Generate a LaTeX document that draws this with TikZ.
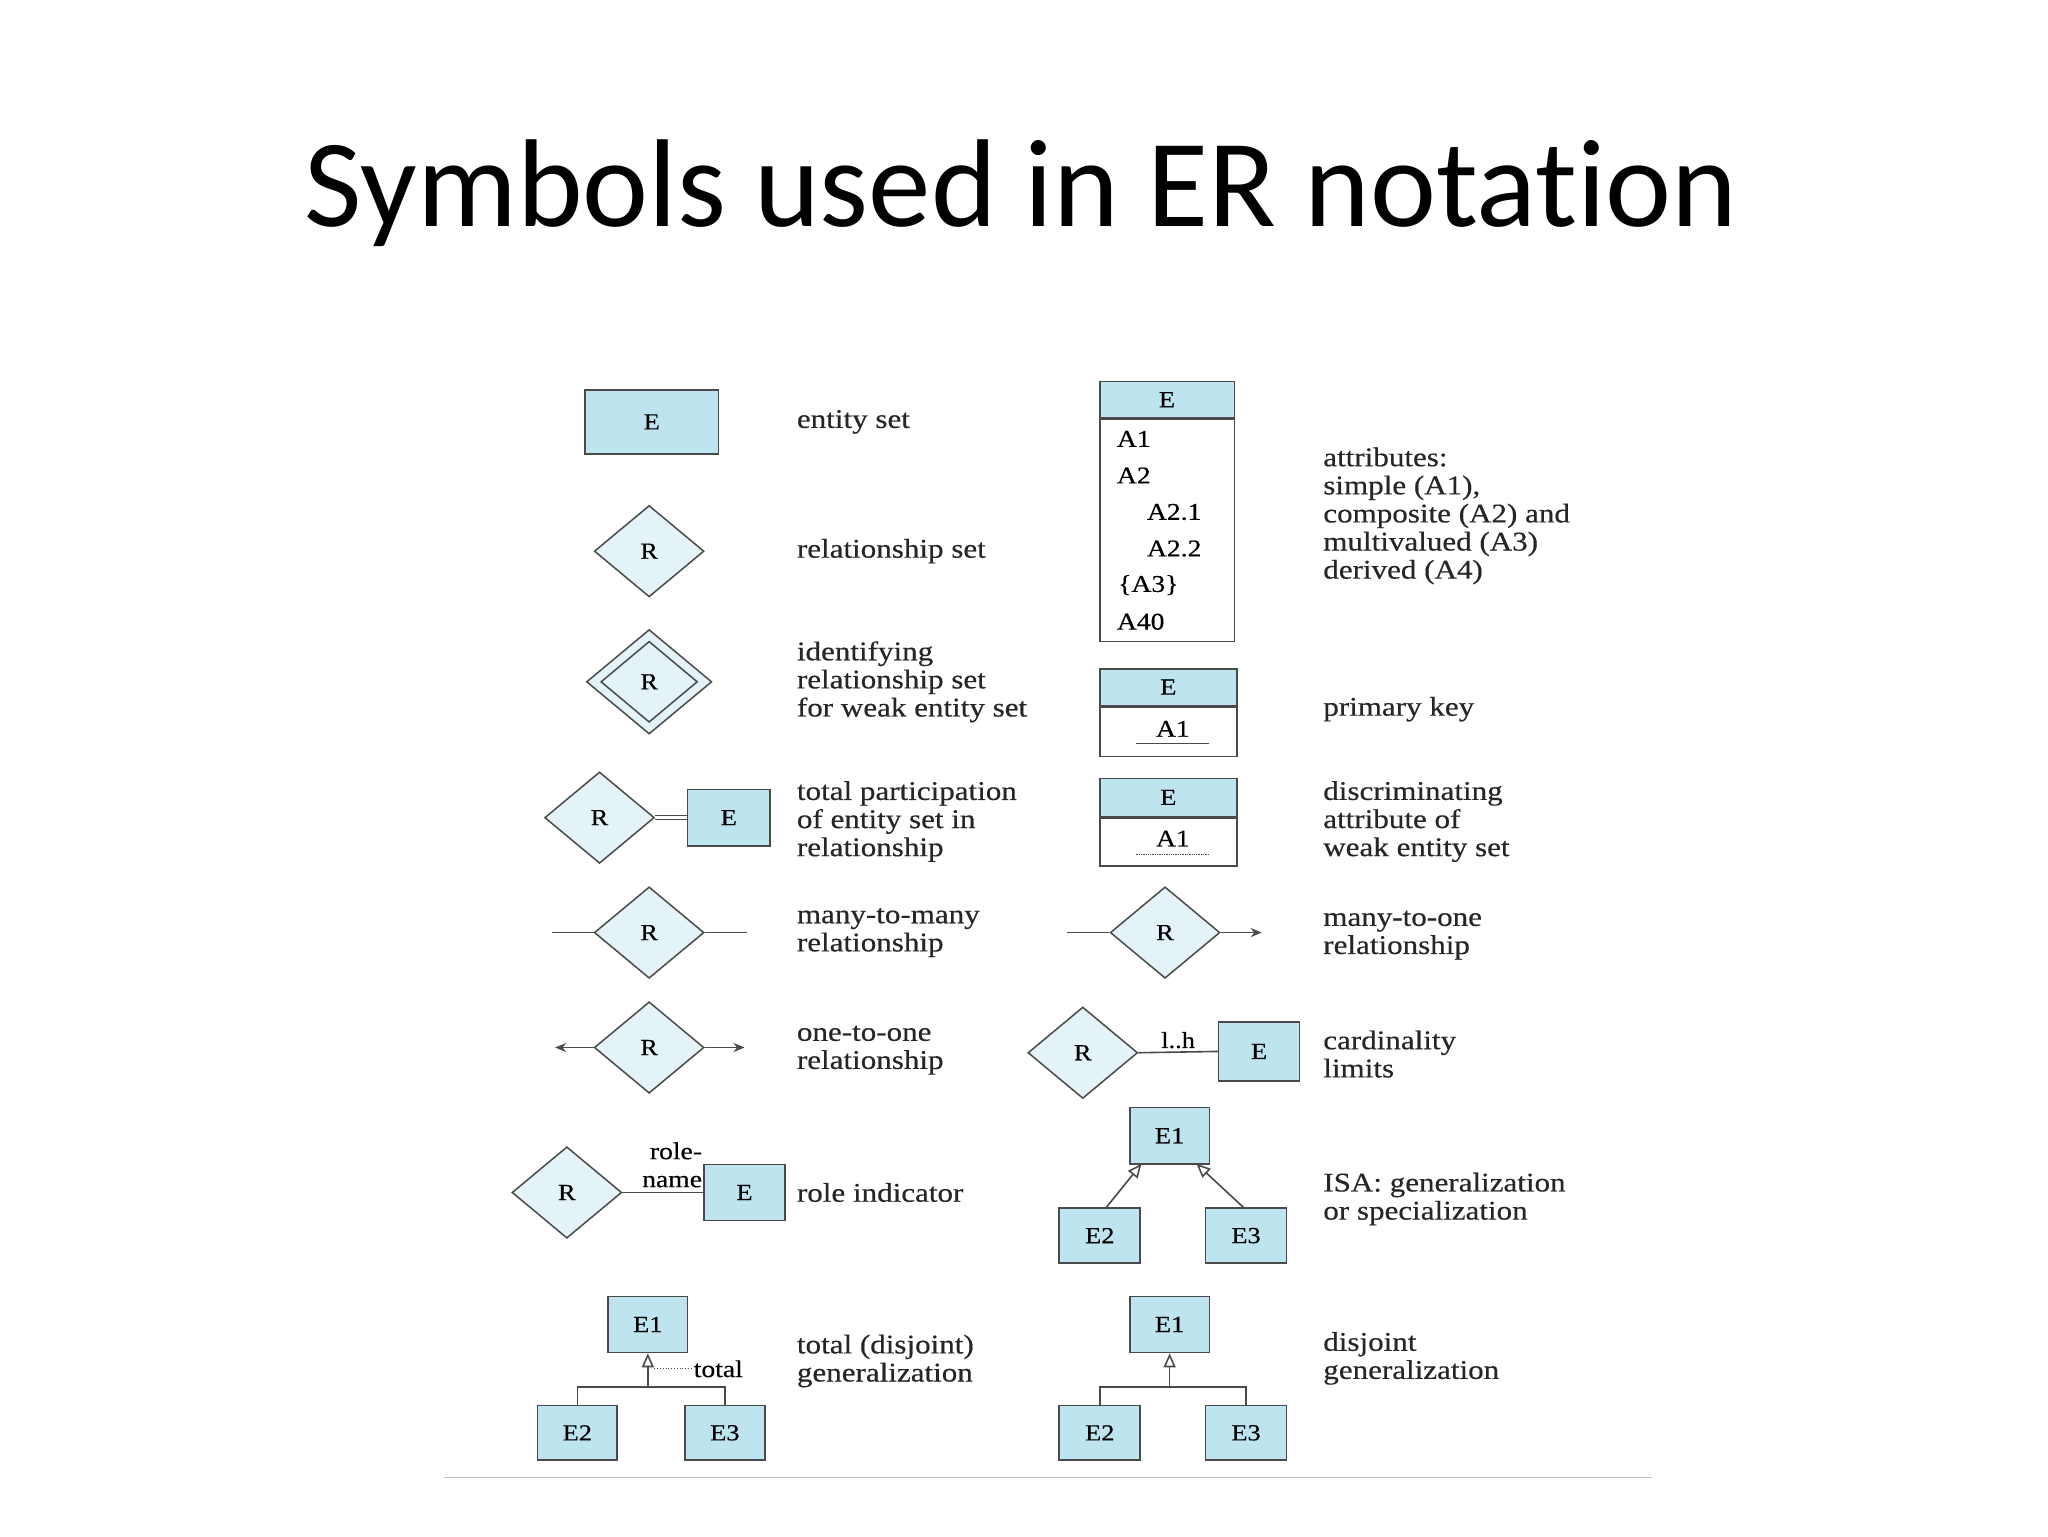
\documentclass[tikz,border=0pt]{standalone}
\usepackage{fontspec}
\setmainfont[FakeStretch=1.15,FakeBold=0.4]{Liberation Serif}
\newfontfamily\titlefont[Ligatures={NoCommon,NoRequired,NoContextual}]{Carlito}
\usetikzlibrary{shapes.geometric,arrows.meta}
\definecolor{ebl}{HTML}{BEE4EF}
\definecolor{dbl}{HTML}{E4F3F8}
\definecolor{stk}{HTML}{4A4A4A}
\def\u{1.3061pt}
\begin{document}
\begin{tikzpicture}[x=1.3061pt,y=-1.3061pt,
  ent/.style={draw=stk,line width=1.6pt,fill=ebl,inner sep=0pt,font=\fontsize{23}{24}\selectfont},
  rel/.style={diamond,draw=stk,line width=1.5pt,fill=dbl,inner sep=0pt,minimum width=84*\u,minimum height=70*\u,aspect=1.2,font=\fontsize{23}{24}\selectfont},
  lab/.style={anchor=west,align=left,inner sep=0pt,font=\fontsize{27}{28.1}\selectfont,text=black!85},
  att/.style={anchor=west,inner sep=0pt,font=\fontsize{24}{24}\selectfont},
  ln/.style={draw=stk,line width=1.6pt},
  isa/.style={ln,-{Triangle[open,length=14pt,width=12pt]}},
  atip/.style={ln,-{Stealth[length=11pt,width=9pt]}}]
\useasboundingbox (0,0) rectangle (1568,1176);
\fill[white] (0,0) rectangle (1568,1176);
\node[font=\titlefont\fontsize{125}{130}\selectfont] (title) at (782,148) {Symbols used in ER notation};
% ---- left column
\node[ent,minimum width=102*\u,minimum height=49*\u] (e1) at (499,323) {E};
\node[lab] (l1) at (610,323) {entity set};
\node[rel] (r2) at (497,422) {R};
\node[lab] (l2) at (610,422) {relationship set};
\node[rel,minimum width=96*\u,minimum height=80*\u] (r3o) at (497,522) {};
\node[rel,minimum width=74*\u,minimum height=62*\u] (r3) at (497,522) {R};
\node[lab] (l3) at (610,522) {identifying\\relationship set\\for weak entity set};
\node[rel] (r4) at (459,626) {R};
\node[ent,minimum width=63*\u,minimum height=43*\u] (e4) at (558,626) {E};
\draw[draw=stk,line width=1.3pt,double=white,double distance=3pt] (r4.east) -- (e4.west);
\node[lab] (l4) at (610,629) {total participation\\of entity set in\\relationship};
\node[rel] (r5) at (497,714) {R};
\coordinate (r5a) at (423,714); \coordinate (r5b) at (572,714);
\draw[ln] (r5a) -- (r5.west); \draw[ln] (r5.east) -- (r5b);
\node[lab] (l5) at (610,714) {many-to-many\\relationship};
\node[rel] (r6) at (497,802) {R};
\coordinate (r6a) at (425,802); \coordinate (r6b) at (570,802);
\draw[atip] (r6.west) -- (r6a); \draw[atip] (r6.east) -- (r6b);
\node[lab] (l6) at (610,804) {one-to-one\\relationship};
\node[rel] (r7) at (434,913) {R};
\node[ent,minimum width=62*\u,minimum height=43*\u] (e7) at (570,913) {E};
\draw[ln] (r7.east) -- (e7.west);
\node[anchor=south east,align=right,inner sep=1pt,font=\fontsize{24}{28}\selectfont] (rn) at (e7.west|-0,910) {role-\\name};
\node[lab] (l7) at (610,913) {role indicator};
\node[ent,minimum width=61*\u,minimum height=43*\u] (g1) at (496,1014) {E1};
\node[ent,minimum width=61*\u,minimum height=42*\u] (g2) at (442,1097) {E2};
\node[ent,minimum width=61*\u,minimum height=42*\u] (g3) at (555,1097) {E3};
\coordinate (gj) at (496,1062);
\draw[ln] (g2.north) |- (gj) -| (g3.north);
\draw[isa] (gj) -- (g1.south);
\node[anchor=west,inner sep=0pt,font=\fontsize{24}{24}\selectfont] (tot) at (531,1048) {total};
\draw[stk,dotted,line width=0.8pt] (501,1048) -- (tot.west);
\node[lab] (l8) at (610,1042) {total (disjoint)\\generalization};
% ---- right column
\node[ent,minimum width=103*\u,minimum height=28*\u] (ah) at (893.5,306) {E};
\node[ent,fill=white,anchor=north,minimum width=103*\u,minimum height=170*\u] (ab) at (ah.south) {};
\node[att] (a1) at (855,336) {A1};
\node[att] (a2) at (855,364) {A2};
\node[att] (a21) at (878,392) {A2.1};
\node[att] (a22) at (878,420) {A2.2};
\node[att] (a3) at (856,448) {\{A3\}};
\node[att] (a4) at (855,476) {A40};
\node[lab] (l9) at (1013,395) {attributes:\\simple (A1),\\composite (A2) and\\multivalued (A3)\\derived (A4)};
\node[ent,minimum width=105*\u,minimum height=28*\u] (ph) at (894.5,526) {E};
\node[ent,fill=white,anchor=north,minimum width=105*\u,minimum height=38*\u] (pb) at (ph.south) {};
\node[att,anchor=center] (pa) at (898,558) {A1};
\draw[stk,line width=1.3pt] (870,569) -- (926,569);
\node[lab] (l10) at (1013,543) {primary key};
\node[ent,minimum width=105*\u,minimum height=29*\u] (dh) at (894.5,610.5) {E};
\node[ent,fill=white,anchor=north,minimum width=105*\u,minimum height=37*\u] (db) at (dh.south) {};
\node[att,anchor=center] (da) at (898,642) {A1};
\draw[stk,densely dotted,line width=1.3pt] (870,654) -- (926,654);
\node[lab] (l11) at (1013,629) {discriminating\\attribute of\\weak entity set};
\node[rel] (r12) at (892,714) {R};
\coordinate (r12a) at (817,714); \coordinate (r12b) at (966,714);
\draw[ln] (r12a) -- (r12.west); \draw[atip] (r12.east) -- (r12b);
\node[lab] (l12) at (1013,716) {many-to-one\\relationship};
\node[rel] (r13) at (829,806) {R};
\node[ent,minimum width=62*\u,minimum height=45*\u] (e13) at (964,805) {E};
\draw[ln] (r13.east) -- node[above,inner sep=3pt,font=\fontsize{23}{24}\selectfont] (lh) {l..h} (e13.west);
\node[lab] (l13) at (1013,807) {cardinality\\limits};
\node[ent,minimum width=61*\u,minimum height=43*\u] (i1) at (895.5,869.5) {E1};
\node[ent,minimum width=62*\u,minimum height=42*\u] (i2) at (842,946) {E2};
\node[ent,minimum width=62*\u,minimum height=42*\u] (i3) at (954,946) {E3};
\draw[isa] (i2.north) ++(5,0) coordinate (i2t) -- (874,891);
\draw[isa] (i3.north) ++(-2,0) coordinate (i3t) -- (916,891);
\node[lab] (l14) at (1013,918) {ISA: generalization\\or specialization};
\node[ent,minimum width=61*\u,minimum height=43*\u] (k1) at (895.5,1014) {E1};
\node[ent,minimum width=62*\u,minimum height=42*\u] (k2) at (842,1097) {E2};
\node[ent,minimum width=62*\u,minimum height=42*\u] (k3) at (954,1097) {E3};
\coordinate (kj) at (895.5,1062);
\draw[ln] (k2.north) |- (kj) -| (k3.north);
\draw[isa] (kj) -- (k1.south);
\node[lab] (l15) at (1013,1040) {disjoint\\generalization};
\draw[black!25,line width=1pt] (340,1131) -- (1265,1131);
\end{tikzpicture}
\end{document}
